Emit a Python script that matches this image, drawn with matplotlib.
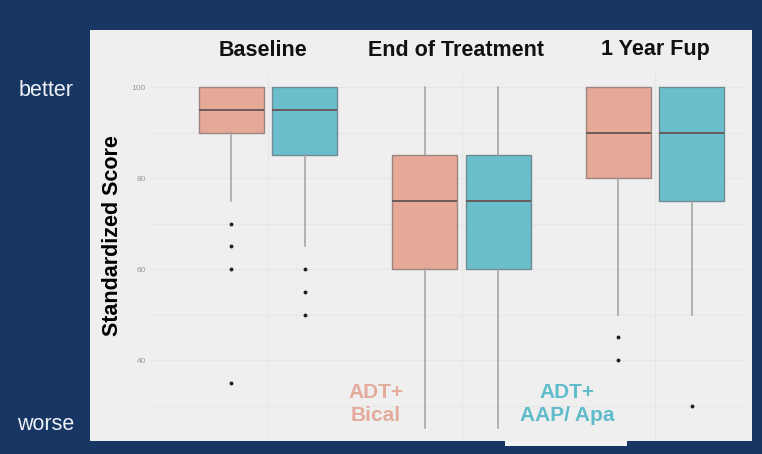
import numpy as np
import matplotlib
matplotlib.use("Agg")
import matplotlib.pyplot as plt
from matplotlib.patches import Rectangle
from matplotlib.transforms import blended_transform_factory

# ===== Datos =====
groups = ["Baseline", "End of Treatment", "1 Year Fup"]
arms = ["ADT+\nBical", "ADT+\nAAP/ Apa"]

bical_lo = [75, 25, 50]
bical_q1 = [90, 60, 80]
bical_med = [95, 75, 90]
bical_q3 = [100, 85, 100]
bical_hi = [100, 100, 100]
bical_fliers = [[70, 65, 60, 35], [], [45, 40]]

aap_lo = [65, 25, 50]
aap_q1 = [85, 60, 75]
aap_med = [95, 75, 90]
aap_q3 = [100, 85, 100]
aap_hi = [100, 100, 100]
aap_fliers = [[60, 55, 50], [], [30]]

y_ticks = [40, 60, 80, 100]
y_minor = [30, 50, 70, 90]

# ===== Estilo =====
navy = "#183664"
panel = "#efefef"
salmon = "#e6a897"
teal = "#6bbfcd"
W, H = 762, 454
plt.rcParams["font.family"] = ["Liberation Sans", "DejaVu Sans"]


def stats(lo, q1, med, q3, hi, fl):
    return [dict(whislo=a, q1=b, med=c, q3=d, whishi=e, fliers=f)
            for a, b, c, d, e, f in zip(lo, q1, med, q3, hi, fl)]


fig = plt.figure(figsize=(W / 100, H / 100), dpi=100, facecolor=navy)

# fondo gris del gráfico (detrás de los ejes)
fig.add_artist(Rectangle((505 / W, 1 - 446 / H), 122 / W, 10 / H,
                         transform=fig.transFigure, facecolor="#f4f4f4",
                         edgecolor="none", zorder=-2))
fig.add_artist(Rectangle((90 / W, 1 - 441 / H), 662 / W, 411 / H,
                         transform=fig.transFigure, facecolor=panel,
                         edgecolor="none", zorder=-1))

ax = fig.add_axes([150 / W, 1 - 441 / H, 595 / W, 371 / H])
ax.set_zorder(1)
ax.set_facecolor(panel)
for s in ax.spines.values():
    s.set_visible(False)

x = np.arange(1, len(groups) + 1)
off, wid = 0.189, 0.336

common = dict(patch_artist=True, widths=wid, zorder=3,
              whiskerprops=dict(color="#a0a0a0", lw=1.1),
              capprops=dict(visible=False),
              medianprops=dict(color="#6a5c5a", lw=1.4),
              flierprops=dict(marker="o", markersize=1.8, markerfacecolor="#222222",
                              markeredgecolor="#222222"))

b1 = ax.bxp(stats(bical_lo, bical_q1, bical_med, bical_q3, bical_hi, bical_fliers),
            positions=x - off, **common)
b2 = ax.bxp(stats(aap_lo, aap_q1, aap_med, aap_q3, aap_hi, aap_fliers),
            positions=x + off, **common)
for p in b1["boxes"]:
    p.set_facecolor(salmon); p.set_edgecolor("#9a8580"); p.set_linewidth(1)
for p in b2["boxes"]:
    p.set_facecolor(teal); p.set_edgecolor("#6f8a90"); p.set_linewidth(1)

ax.set_xlim(0.39, 3.465)
ax.set_ylim(22.2, 103.75)
ax.set_xticks([])
ax.set_yticks(y_ticks)
ax.set_yticks(y_minor, minor=True)
ax.tick_params(axis="y", which="both", length=0, pad=3, labelsize=6, labelcolor="#9a9a9a")
ax.grid(True, axis="y", which="both", color="#e6e6e6", lw=0.8, zorder=0)
for xi in x:
    ax.axvline(xi, color="#e6e6e6", lw=0.8, zorder=0)

ax.set_ylabel("Standardized Score", fontsize=15.5, fontweight="bold", color="black")
ax.yaxis.set_label_coords((123 - 150) / 595, (441 - 236) / 371)

# títulos de los grupos (un poco a la izquierda en los dos primeros)
tr = blended_transform_factory(ax.transData, fig.transFigure)
title_shift = [-0.025, -0.03, 0.0]
for xi, g, d in zip(x, groups, title_shift):
    ax.text(xi + d, 1 - 50 / H, g, transform=tr, ha="center", va="center",
            fontsize=15.5, fontweight="bold", color="#111111")

# etiquetas better / worse
fig.text(46 / W, 1 - 90 / H, "better", color="#eef2f7", fontsize=15.5, ha="center", va="center")
fig.text(46 / W, 1 - 425 / H, "worse", color="#eef2f7", fontsize=15.5, ha="center", va="center")

# leyenda en texto
fig.text(376 / W, 1 - 404 / H, arms[0], color="#e3ab9c", fontsize=15, ha="center",
         va="center", linespacing=1.25, fontweight="bold", zorder=5)
fig.text(567 / W, 1 - 404 / H, arms[1], color="#5fbccb", fontsize=15, ha="center",
         va="center", linespacing=1.25, fontweight="bold", zorder=5)

fig.savefig("out.png", dpi=100, facecolor=navy)
